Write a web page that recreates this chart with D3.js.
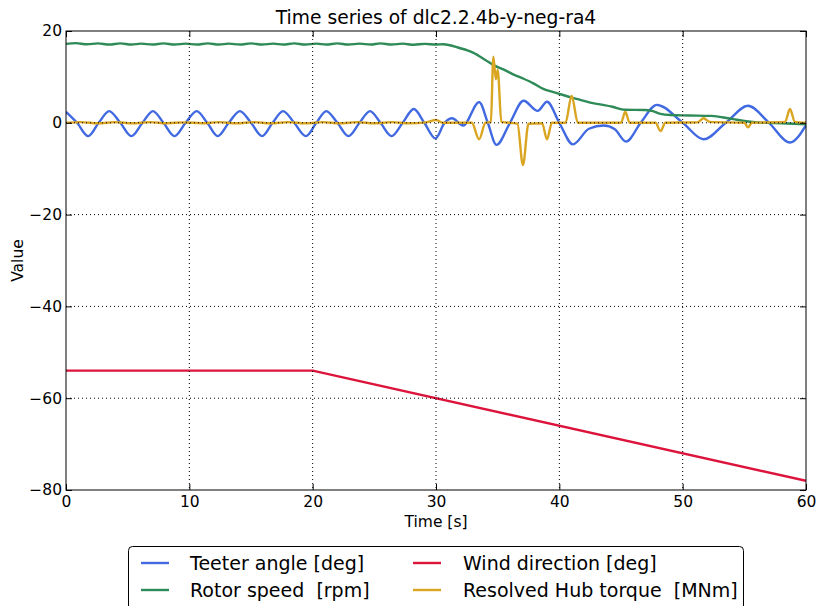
<!DOCTYPE html>
<html>
<head>
<meta charset="utf-8">
<script src="https://cdn.jsdelivr.net/npm/d3@7/dist/d3.min.js"></script>
<style>
  html, body { margin: 0; padding: 0; background: #fff; }
  svg { display: block; font-family: "DejaVu Sans", sans-serif; }
  text { white-space: pre; }
</style>
</head>
<body>
<svg id="chart" width="819" height="606"></svg>
<script>
// Time series for load case dlc2.2.4b-y-neg-ra4: [time s, value]
const teeterAngle = [
  [0, 2.4], [0.9, 0], [1.8, -2.9], [2.65, 0], [3.5, 2.55], [4.4, 0], [5.3, -2.9], [6.2, 0],
  [7.05, 2.55], [7.9, 0], [8.8, -2.9], [9.7, 0], [10.6, 2.55], [11.45, 0], [12.3, -2.9], [13.2, 0],
  [14.1, 2.55], [15.0, 0], [15.9, -2.9], [16.75, 0], [17.6, 2.55], [18.5, 0], [19.45, -2.9], [20.3, 0],
  [21.1, 2.55], [22.0, 0], [22.9, -2.9], [23.8, 0], [24.65, 2.55], [25.5, 0], [26.4, -2.9], [27.3, 0],
  [28.2, 3.0], [29.05, 0], [29.95, -3.4], [30.7, 0], [31.3, 1.0], [32.2, -0.6], [33.5, 4.5], [34.2, 0],
  [34.9, -4.8], [36.0, 0], [37.1, 4.8], [38.25, 2.6], [39.0, 4.6], [40.0, 0], [41.1, -4.7], [42.4, -1.3],
  [43.6, -0.6], [44.5, -1.4], [45.4, -4.1], [46.6, 0], [47.9, 3.9], [50.0, 0], [51.7, -3.6], [53.5, 0],
  [55.3, 3.7], [57.0, 0], [58.7, -4.3], [60, -0.5]
];

const rotorSpeed = [
  [0, 17.2], [0.8, 17.35], [1.7, 17.1], [2.6, 17.3], [3.5, 17.05], [4.4, 17.3], [5.3, 17.05], [6.1, 17.25],
  [7.0, 17.05], [7.9, 17.3], [8.8, 17.05], [9.7, 17.25], [10.6, 17.05], [11.5, 17.3], [12.4, 17.05], [13.2, 17.25],
  [14.1, 17.05], [15.0, 17.3], [15.9, 17.05], [16.8, 17.25], [17.6, 17.05], [18.5, 17.3], [19.4, 17.05], [20.3, 17.25],
  [21.1, 17.05], [22.0, 17.3], [22.9, 17.05], [23.8, 17.25], [24.7, 17.05], [25.5, 17.3], [26.4, 17.05], [27.3, 17.25],
  [28.2, 17.0], [29.1, 17.2], [30.0, 17.05], [30.6, 17.1], [31.9, 16.3], [33.0, 15.3], [34.0, 13.7], [34.7, 12.5],
  [35.5, 11.6], [36.3, 10.5], [37.1, 9.6], [37.9, 8.6], [38.7, 7.4], [39.4, 6.8], [40.0, 6.3], [41.0, 5.5],
  [41.7, 5.0], [42.5, 4.4], [43.3, 4.0], [44.3, 3.5], [45.3, 2.85], [46.9, 2.8], [47.5, 2.6], [48.2, 1.95],
  [49.0, 1.7], [50.5, 1.6], [52.3, 1.5], [53.2, 1.2], [54.1, 0.8], [55.0, 0.4], [56.1, 0.1], [58.0, -0.1],
  [60, -0.3]
];

const windDirection = [[0, -54], [20, -54], [60, -78]];

const hubTorque = [
  [0, 0], [1.2, 0.15], [2.6, -0.1], [4.0, 0.15], [5.4, -0.1], [6.8, 0.15], [8.2, -0.1], [9.6, 0.1],
  [11.0, -0.1], [12.4, 0.15], [13.8, -0.1], [15.2, 0.15], [16.6, -0.1], [18.0, 0.15], [19.4, -0.1], [20.8, 0.15],
  [22.2, -0.1], [23.6, 0.15], [25.0, -0.1], [26.4, 0.15], [27.8, -0.1], [29.2, 0.1], [30.0, 0.6], [30.6, 0],
  [32.9, 0], [33.5, -3.6], [34.0, 0], [34.45, 0.2], [34.65, 14.4], [34.85, 9.5], [35.0, 11.5], [35.3, 0.2],
  [36.6, -0.2], [37.05, -9.2], [37.5, -0.2], [38.6, -0.1], [39.0, -3.6], [39.4, 0], [40.5, 0], [41.0, 5.9],
  [41.5, 0], [45.0, 0], [45.35, 2.4], [45.7, 0], [47.8, 0], [48.2, -1.8], [48.6, 0], [51.2, 0.1],
  [51.7, 1.0], [52.2, 0.2], [55.0, 0], [55.3, -1.0], [55.6, 0], [58.3, 0.2], [58.7, 3.0], [59.1, 0.2],
  [60, 0]
];

const xTicks = [0, 10, 20, 30, 40, 50, 60];
const yTicks = [-80, -60, -40, -20, 0, 20];

const seriesNames = [
  "Teeter angle [deg]", "Rotor speed  [rpm]", "Wind direction [deg]", "Resolved Hub torque  [MNm]"
];
const seriesColors = ["#4169E1", "#2E8B57", "#DC143C", "#DAA520"];
const seriesData = [teeterAngle, rotorSpeed, windDirection, hubTorque];
// Wind direction is a piecewise-linear ramp; the measured signals are smooth
const seriesCurves = [d3.curveMonotoneX, d3.curveMonotoneX, d3.curveLinear, d3.curveMonotoneX];

const svg = d3.select("#chart");
const plot = { left: 66, right: 806, top: 31, bottom: 490 };

const x = d3.scaleLinear().domain([0, 60]).range([plot.left, plot.right]);
const y = d3.scaleLinear().domain([-80, 20]).range([plot.bottom, plot.top]);

svg.append("defs").append("clipPath").attr("id", "plotclip")
  .append("rect")
  .attr("x", plot.left).attr("y", plot.top)
  .attr("width", plot.right - plot.left).attr("height", plot.bottom - plot.top);

// Series lines
const linesG = svg.append("g").attr("clip-path", "url(#plotclip)");
[0, 1, 2, 3].forEach(i => {
  const line = d3.line().x(d => x(d[0])).y(d => y(d[1])).curve(seriesCurves[i]);
  linesG.append("path")
    .datum(seriesData[i])
    .attr("fill", "none")
    .attr("stroke", seriesColors[i])
    .attr("stroke-width", 2.4)
    .attr("stroke-linejoin", "round")
    .attr("d", line);
});

// Dotted grid (drawn above the lines)
const grid = svg.append("g");
xTicks.slice(1, -1).forEach(t => {
  grid.append("line")
    .attr("x1", x(t)).attr("x2", x(t)).attr("y1", plot.top).attr("y2", plot.bottom)
    .attr("stroke", "#000").attr("stroke-width", 1).attr("stroke-dasharray", "1,3");
});
yTicks.slice(1, -1).forEach(t => {
  grid.append("line")
    .attr("x1", plot.left).attr("x2", plot.right).attr("y1", y(t)).attr("y2", y(t))
    .attr("stroke", "#000").attr("stroke-width", 1).attr("stroke-dasharray", "1,3");
});

// Axes with inward ticks
const fmt = d3.format("d");
const tickFont = 15.5;
const bottomAxis = svg.append("g").attr("transform", `translate(0,${plot.bottom})`)
  .call(d3.axisBottom(x).tickValues(xTicks).tickFormat(fmt).tickSize(-6).tickPadding(6));
const leftAxis = svg.append("g").attr("transform", `translate(${plot.left},0)`)
  .call(d3.axisLeft(y).tickValues(yTicks).tickFormat(fmt).tickSize(-6).tickPadding(4));
const topAxis = svg.append("g").attr("transform", `translate(0,${plot.top})`)
  .call(d3.axisTop(x).tickValues(xTicks).tickFormat("").tickSize(-6));
const rightAxis = svg.append("g").attr("transform", `translate(${plot.right},0)`)
  .call(d3.axisRight(y).tickValues(yTicks).tickFormat("").tickSize(-6));
[bottomAxis, leftAxis, topAxis, rightAxis].forEach(g => {
  g.select(".domain").remove();
  g.selectAll("line").attr("stroke", "#000").attr("stroke-width", 1);
  g.selectAll("text").attr("fill", "#000").style("font-size", tickFont + "px")
    .style("font-family", "'DejaVu Sans', sans-serif");
});

// Frame
svg.append("rect")
  .attr("x", plot.left).attr("y", plot.top)
  .attr("width", plot.right - plot.left).attr("height", plot.bottom - plot.top)
  .attr("fill", "none").attr("stroke", "#000").attr("stroke-width", 1);

// Title and axis labels
svg.append("text")
  .attr("x", (plot.left + plot.right) / 2).attr("y", 24)
  .attr("text-anchor", "middle").style("font-size", "18.7px")
  .text("Time series of dlc2.2.4b-y-neg-ra4");
svg.append("text")
  .attr("x", (plot.left + plot.right) / 2).attr("y", 527)
  .attr("text-anchor", "middle").style("font-size", "15.5px")
  .text("Time [s]");
svg.append("text")
  .attr("transform", `translate(23,${(plot.top + plot.bottom) / 2}) rotate(-90)`)
  .attr("text-anchor", "middle").style("font-size", "15.5px")
  .text("Value");

// Legend
const legend = svg.append("g");
legend.append("rect")
  .attr("x", 128.5).attr("y", 546.5).attr("width", 615).attr("height", 70)
  .attr("rx", 4).attr("ry", 4)
  .attr("fill", "#fff").attr("stroke", "#000").attr("stroke-width", 1);
const legendCols = [{ lx: 141, tx: 190 }, { lx: 413, tx: 463 }];
const legendRows = [563, 590];
[0, 1, 2, 3].forEach(i => {
  const col = legendCols[Math.floor(i / 2)];
  const ry = legendRows[i % 2];
  legend.append("line")
    .attr("x1", col.lx).attr("x2", col.lx + 28).attr("y1", ry).attr("y2", ry)
    .attr("stroke", seriesColors[i]).attr("stroke-width", 2.4);
  legend.append("text")
    .attr("x", col.tx).attr("y", ry + 6.8)
    .style("font-size", "19px")
    .text(seriesNames[i]);
});
</script>
</body>
</html>
